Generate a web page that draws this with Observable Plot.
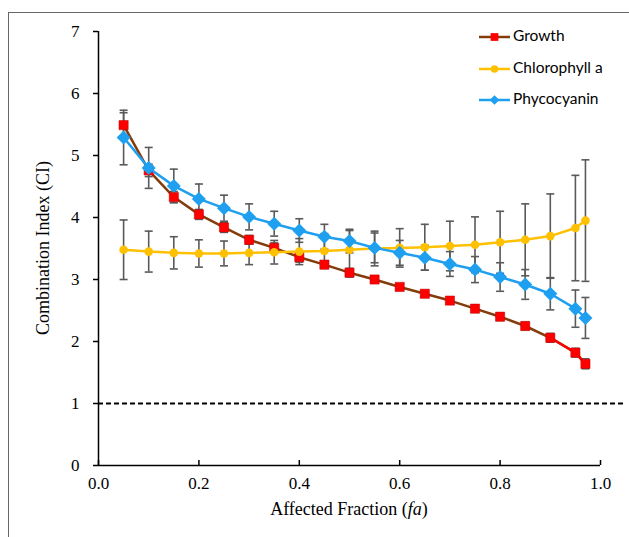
<!DOCTYPE html>
<html>
<head>
<meta charset="utf-8">
<script src="https://cdn.jsdelivr.net/npm/d3@7"></script>
<script src="https://cdn.jsdelivr.net/npm/@observablehq/plot@0.6"></script>
<style>
  body { margin: 0; background: #fff; }
  #wrap { position: relative; width: 629px; height: 537px; overflow: hidden; }
  #frame { position: absolute; left: 8px; top: 12px; width: 640px; height: 600px; border: 1px solid #666; box-sizing: border-box; pointer-events: none; }
  #wrap svg text { font-family: "Liberation Serif", "DejaVu Serif", serif; }
  #wrap svg text.legend { font-family: Lato, "Open Sans", sans-serif; }
</style>
</head>
<body>
<div id="wrap"><div id="frame"></div></div>
<script>
const fa = [0.05,0.10,0.15,0.20,0.25,0.30,0.35,0.40,0.45,0.50,0.55,0.60,0.65,0.70,0.75,0.80,0.85,0.90,0.95,0.97];
const growth    = [5.49,4.76,4.33,4.05,3.84,3.64,3.51,3.36,3.24,3.11,3.00,2.88,2.77,2.66,2.53,2.40,2.25,2.06,1.82,1.64];
const growthErr = [0.20,0.10,0.09,0.08,0.08,0.07,0.08,0.08,0.06,0.07,0.05,0.05,0.05,0.05,0.06,0.06,0.06,0.07,0.07,0.08];
const chl       = [3.48,3.45,3.43,3.42,3.42,3.43,3.44,3.45,3.46,3.48,3.50,3.51,3.52,3.54,3.56,3.60,3.64,3.70,3.83,3.95];
const chlErr    = [0.48,0.33,0.26,0.22,0.20,0.19,0.19,0.21,0.28,0.31,0.28,0.31,0.37,0.40,0.45,0.50,0.58,0.68,0.85,0.98];
const phyco     = [5.29,4.80,4.51,4.30,4.15,4.01,3.90,3.79,3.69,3.62,3.51,3.43,3.35,3.25,3.16,3.04,2.92,2.77,2.53,2.38];
const phycoErr  = [0.44,0.33,0.27,0.24,0.21,0.21,0.20,0.19,0.20,0.19,0.24,0.20,0.20,0.20,0.21,0.23,0.24,0.26,0.30,0.33];
const xTicks = [0, 0.2, 0.4, 0.6, 0.8, 1.0];
const yTicks = [0, 1, 2, 3, 4, 5, 6, 7];
const seriesNames = ["Growth", "Chlorophyll a", "Phycocyanin"];
const synergyLine = 1;

const rows = (vals, errs, name) => fa.map((f, i) => ({fa: f, v: vals[i], lo: vals[i] - errs[i], hi: vals[i] + errs[i], s: name}));
const G = rows(growth, growthErr, seriesNames[0]);
const C = rows(chl, chlErr, seriesNames[1]);
const P = rows(phyco, phycoErr, seriesNames[2]);
const all = [...G, ...C, ...P];

const cap = { draw(ctx) { ctx.moveTo(-4, 0); ctx.lineTo(4, 0); } };
const serif = "Liberation Serif";
const errColor = "#5a5a5a";

const chart = Plot.plot({
  width: 629, height: 537,
  marginLeft: 98, marginRight: 29, marginTop: 31, marginBottom: 72,
  style: { fontSize: "17px", background: "transparent", overflow: "visible" },
  x: { domain: [0, 1] },
  y: { domain: [0, 7] },
  marks: [
    Plot.ruleY([synergyLine], { x1: 0, x2: 1.05, stroke: "#000", strokeWidth: 2, strokeDasharray: "5,3", clip: false }),
    Plot.ruleX(all, { x: "fa", y1: "lo", y2: "hi", stroke: errColor, strokeWidth: 1.6 }),
    Plot.dot(all, { x: "fa", y: "lo", symbol: cap, stroke: errColor, strokeWidth: 1.6, r: 4 }),
    Plot.dot(all, { x: "fa", y: "hi", symbol: cap, stroke: errColor, strokeWidth: 1.6, r: 4 }),
    Plot.line(G, { x: "fa", y: "v", stroke: "#843C0C", strokeWidth: 2.5 }),
    Plot.line(G.filter(d => d.fa >= 0.9), { x: "fa", y: "v", stroke: "#FF0000", strokeWidth: 2.5 }),
    Plot.dot(G, { x: "fa", y: "v", symbol: "square", fill: "#FF0000", stroke: "#C00000", strokeWidth: 0.5, r: 5.2 }),
    Plot.line(C, { x: "fa", y: "v", stroke: "#FFC000", strokeWidth: 2.5 }),
    Plot.dot(C, { x: "fa", y: "v", symbol: "circle", fill: "#FFC000", r: 4.3 }),
    Plot.line(P, { x: "fa", y: "v", stroke: "#1E9FEF", strokeWidth: 2.5 }),
    Plot.dot(P, { x: "fa", y: "v", symbol: "diamond2", fill: "#1E9FEF", r: 6.3 }),
    Plot.ruleX([0], { y1: 0, y2: 7, stroke: "#000", strokeWidth: 1.5 }),
    Plot.ruleY([0], { x1: 0, x2: 1, stroke: "#000", strokeWidth: 1.5 }),
    Plot.axisX(xTicks, { tickSize: -5, tickPadding: 16, tickFormat: d3.format(".1f"), label: null, stroke: "#000", strokeWidth: 1.5, fill: "#000", fontSize: 17 }),
    Plot.axisY(yTicks, { tickSize: 5, tickPadding: 14, tickFormat: d3.format("d"), label: null, stroke: "#000", strokeWidth: 1.5, fill: "#000", fontSize: 17 })
  ]
});

document.getElementById("wrap").appendChild(chart);
const svg = d3.select(chart);

// axis titles
svg.append("text")
  .attr("transform", "translate(45,248) rotate(-90)")
  .attr("text-anchor", "middle").attr("dominant-baseline", "middle")
  .style("font-size", "18px").attr("fill", "#000")
  .text("Combination Index (CI)");
const xl = svg.append("text")
  .attr("x", 349).attr("y", 511)
  .attr("text-anchor", "middle").attr("dominant-baseline", "middle")
  .style("font-size", "18px").attr("fill", "#000");
xl.append("tspan").text("Affected Fraction (");
xl.append("tspan").style("font-style", "italic").text("fa");
xl.append("tspan").text(")");

// legend
const legendItems = [
  { name: seriesNames[0], line: "#843C0C", fill: "#FF0000", sym: d3.symbolSquare, size: 60 },
  { name: seriesNames[1], line: "#FFC000", fill: "#FFC000", sym: d3.symbolCircle, size: 45 },
  { name: seriesNames[2], line: "#1E9FEF", fill: "#1E9FEF", sym: d3.symbolDiamond2, size: 60 }
];
const ly = [37, 69, 100];
const lg = svg.append("g");
legendItems.forEach((it, i) => {
  const g = lg.append("g").attr("transform", `translate(0,${ly[i]})`);
  g.append("line").attr("x1", 479).attr("x2", 510).attr("y1", 0).attr("y2", 0).attr("stroke", it.line).attr("stroke-width", 2.5);
  g.append("path").attr("transform", "translate(494.5,0)").attr("d", d3.symbol(it.sym, it.size)()).attr("fill", it.fill);
  g.append("text").attr("class", "legend").attr("x", 513).attr("y", 0).attr("dominant-baseline", "middle").attr("text-anchor", "start")
    .style("font-size", "15.5px").attr("fill", "#000").text(it.name);
});
</script>
</body>
</html>
